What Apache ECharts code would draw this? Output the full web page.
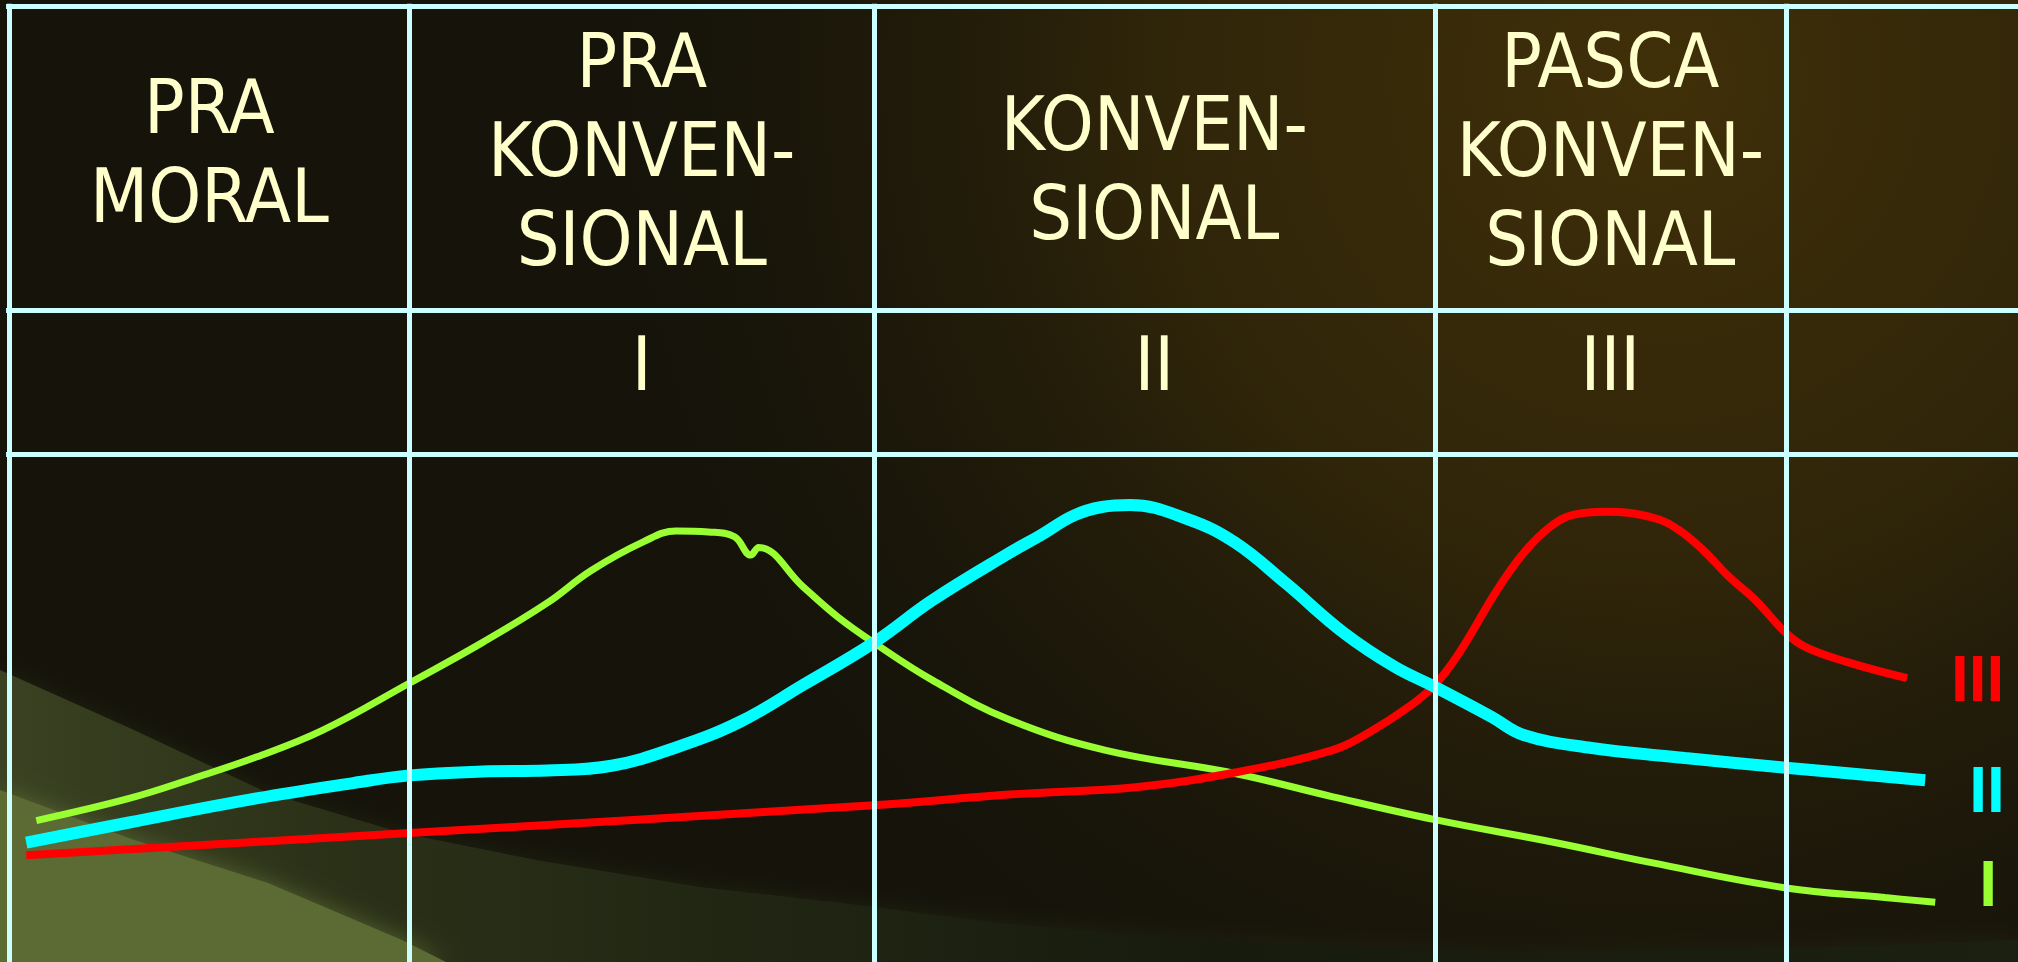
<!DOCTYPE html>
<html>
<head>
<meta charset="utf-8">
<script src="https://cdn.jsdelivr.net/npm/echarts@6/dist/echarts.min.js"></script>
<style>
    html, body {margin: 0; padding: 0; background: #12110a;}
    #main {width: 2018px; height: 962px;}
</style>
</head>
<body>
<div id="main"></div>
<script>
// tahap perkembangan moral (kolom tabel)
var stageNames = ['PRA\nMORAL', 'PRA\nKONVEN-\nSIONAL', 'KONVEN-\nSIONAL', 'PASCA\nKONVEN-\nSIONAL', ''];
var stageLevels = ['', 'I', 'II', 'III', ''];
// batas kolom pada sumbu x (0-100) dan batas baris pada sumbu y (0-100)
var stageEdges = [0.45, 20.3, 43.3, 71.1, 88.5, 100];
var rowEdges = [99.3, 67.7, 52.8];

// kurva I (hijau)
var xLevel1 = [1.8, 6.4, 9.6, 12.7, 16.0, 20.3, 23.9, 27.1, 29.3, 31.9, 33.5, 35.1, 36.4, 37.2, 37.6, 39.8, 41.5, 43.3, 46.2, 50.0, 54.8, 61.2, 66.0, 71.1, 77.1, 81.9, 88.5, 93.4, 95.9];
var yLevel1 = [14.7, 17.0, 19.1, 21.3, 24.1, 29.0, 33.2, 37.3, 40.7, 43.7, 44.8, 44.7, 44.2, 42.3, 43.1, 39.0, 35.9, 33.2, 29.3, 25.2, 22.0, 19.6, 17.2, 14.8, 12.4, 10.3, 7.7, 6.7, 6.2];
// kurva II (biru muda)
var xLevel2 = [1.3, 6.4, 12.7, 17.5, 20.3, 23.9, 27.1, 30.3, 33.5, 36.7, 39.8, 43.3, 46.2, 50.0, 51.6, 53.2, 54.6, 56.0, 58.9, 61.2, 63.7, 66.6, 69.1, 71.1, 73.9, 75.5, 78.7, 83.5, 88.5, 95.4];
var yLevel2 = [12.4, 14.5, 17.0, 18.6, 19.4, 19.8, 19.9, 20.4, 22.3, 25.0, 28.8, 33.2, 37.6, 42.5, 44.4, 46.4, 47.3, 47.5, 46.0, 43.6, 39.4, 34.2, 30.7, 28.6, 25.5, 23.6, 22.3, 21.2, 20.2, 18.9];
// kurva III (merah)
var xLevel3 = [1.3, 20.3, 43.3, 50.0, 56.4, 61.2, 66.0, 67.8, 69.8, 71.1, 72.3, 74.2, 75.5, 76.8, 78.0, 79.6, 81.9, 83.2, 84.4, 85.7, 87.0, 88.5, 89.5, 91.5, 94.5];
var yLevel3 = [11.1, 13.4, 16.3, 17.4, 18.2, 19.7, 22.0, 23.8, 26.5, 28.8, 32.1, 38.7, 42.5, 45.2, 46.5, 46.8, 46.2, 44.9, 42.8, 40.0, 37.6, 34.2, 32.7, 31.2, 29.5];

var W = 2018, H = 962;
var ink = '#ffffcc', rule = '#ccffff';
var headFont = '75px "DejaVu Sans Condensed", "Liberation Sans Narrow", "DejaVu Sans", sans-serif';
var headCenterY = [158, 157, 175, 157, 157];
var levelCenterY = 371;

var chart = echarts.init(document.getElementById('main'));

function pairs(xs, ys) {
    return xs.map(function (x, i) { return [x, ys[i]]; });
}

function curve(name, xs, ys, color, width, labelOffset) {
    return {
        name: name,
        type: 'line',
        data: pairs(xs, ys),
        smooth: 0.4,
        symbol: 'none',
        silent: true,
        z: 3,
        lineStyle: {color: color, width: width, cap: 'butt'},
        endLabel: {
            show: true,
            formatter: '{a}',
            color: color,
            fontSize: 64,
            fontWeight: 'bold',
            fontFamily: '"Liberation Sans", Arial, sans-serif',
            distance: 44,
            offset: labelOffset
        }
    };
}

var tableLines = [];
rowEdges.forEach(function (y) {
    tableLines.push([{coord: [0.3, y]}, {coord: [100, y]}]);
});
stageEdges.slice(0, 5).forEach(function (x) {
    tableLines.push([{coord: [x, 99.6]}, {coord: [x, 0]}]);
});

var option = {
    animation: false,
    grid: {left: 0, right: 0, top: 0, bottom: 0},
    xAxis: {type: 'value', min: 0, max: 100, show: false},
    yAxis: {type: 'value', min: 0, max: 100, show: false},
    series: [
        {
            name: 'tabel',
            type: 'line',
            data: [],
            z: 1,
            silent: true,
            markLine: {
                silent: true,
                symbol: 'none',
                label: {show: false},
                lineStyle: {color: rule, width: 5, type: 'solid'},
                emphasis: {disabled: true},
                data: tableLines
            }
        },
        curve('I', xLevel1, yLevel1, '#99ff33', 7, [0, -14]),
        curve('III', xLevel3, yLevel3, '#ff0000', 8, [0, 5]),
        curve('II', xLevel2, yLevel2, '#00ffff', 12, [0, 14])
    ]
};
chart.setOption(option);

// latar dan teks judul tabel
var graphics = [
    {type: 'rect', z: -3, silent: true, shape: {x: 0, y: 0, width: W, height: H}, style: {fill: '#15130a'}},
    {type: 'rect', z: -3, silent: true, shape: {x: 0, y: 0, width: W, height: H},
        style: {fill: new echarts.graphic.RadialGradient(0.82, 0.08, 1.5, [
            {offset: 0, color: 'rgba(64,48,9,1)'},
            {offset: 0.35, color: 'rgba(52,40,9,0.85)'},
            {offset: 0.8, color: 'rgba(21,19,10,0)'}
        ])}},
    {type: 'polygon', z: -2, silent: true,
        shape: {points: [[0, 670], [134, 730], [268, 793], [402, 833], [536, 860], [700, 887], [842, 903], [1000, 923], [1200, 940], [1500, 952], [1800, 948], [2018, 940], [2018, 962], [0, 962]]},
        style: {fill: new echarts.graphic.LinearGradient(0, 0, 1, 0, [
            {offset: 0, color: '#3a4222'},
            {offset: 0.15, color: '#2c3218'},
            {offset: 0.35, color: '#222714'},
            {offset: 0.6, color: '#171b0e'},
            {offset: 1, color: '#1b2010'}
        ]), shadowBlur: 24, shadowColor: 'rgba(36,42,20,0.6)'}},
    {type: 'polygon', z: -2, silent: true,
        shape: {points: [[0, 790], [134, 840], [268, 883], [402, 940], [446, 962], [0, 962]]},
        style: {fill: '#5c6b34', shadowBlur: 22, shadowColor: 'rgba(92,107,52,0.85)'}}
];

for (var i = 0; i < stageNames.length; i++) {
    var cx = chart.convertToPixel({xAxisIndex: 0}, (stageEdges[i] + stageEdges[i + 1]) / 2);
    if (stageNames[i]) {
        graphics.push({
            type: 'text', z: 10, silent: true,
            style: {text: stageNames[i], x: cx, y: headCenterY[i], align: 'center', verticalAlign: 'middle',
                font: headFont, lineHeight: 89, fill: ink}
        });
    }
    if (stageLevels[i]) {
        graphics.push({
            type: 'text', z: 10, silent: true,
            style: {text: stageLevels[i], x: cx, y: levelCenterY, align: 'center', verticalAlign: 'middle',
                font: headFont, fill: ink}
        });
    }
}
chart.setOption({graphic: graphics});
</script>
</body>
</html>
